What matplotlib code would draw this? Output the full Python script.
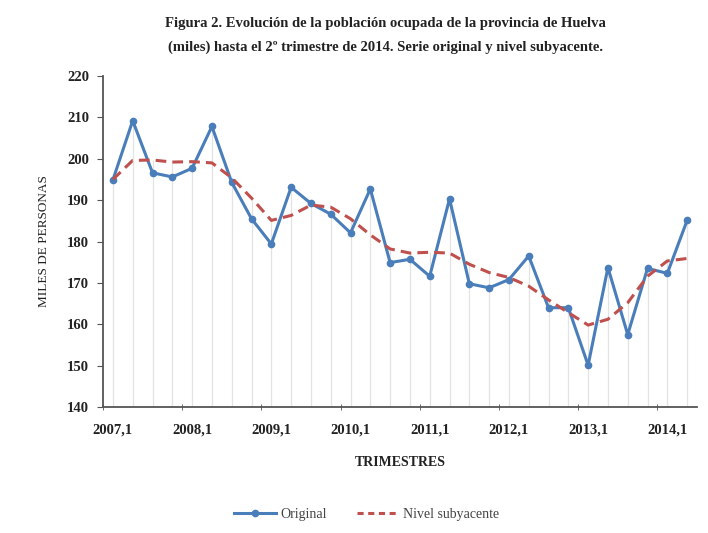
import matplotlib
matplotlib.use("Agg")
import matplotlib.pyplot as plt
from matplotlib.lines import Line2D
import numpy as np

years = list(range(2007, 2015))
tick_labels = [f"{y},1" for y in years]

original = [194.9, 209.2, 196.6, 195.6, 197.7, 207.8, 194.3, 185.5, 179.4, 193.1,
            189.2, 186.6, 182.1, 192.7, 174.9, 175.7, 171.6, 190.3, 169.8, 168.8,
            170.8, 176.5, 164.0, 164.0, 150.1, 173.7, 157.5, 173.5, 172.3, 185.1]
nivel = [195.0, 199.6, 199.7, 199.2, 199.3, 199.0, 195.4, 190.5, 185.1, 186.3,
         188.8, 188.3, 185.5, 181.6, 178.2, 177.2, 177.4, 177.2, 174.5, 172.5,
         171.3, 169.2, 165.9, 162.8, 159.8, 161.2, 165.2, 171.6, 175.3, 175.9]

plt.rcParams['font.family'] = ['Liberation Serif', 'DejaVu Serif']

fig = plt.figure(figsize=(7.08, 5.33), dpi=100)
ax = fig.add_axes([0.1455, 0.2364, 0.839, 0.621])

x = np.arange(len(original))
tops = np.maximum(original, nivel)
ax.vlines(x, 140, tops, color='#e3e3e3', lw=0.9, zorder=1)

blue = '#4a7ebb'
red = '#c0504d'
ax.plot(x, original, color=blue, lw=2.2, marker='o', ms=4.5, zorder=3)
ax.plot(x, nivel, color=red, lw=2.2, ls=(0, (3.5, 2)), zorder=4)

ax.set_xlim(-0.5, len(original) - 0.5)
ax.set_ylim(140, 220)
ax.set_yticks(np.arange(140, 221, 10))

ax.set_xticks(np.arange(0, len(original), 4))
ax.set_xticklabels(tick_labels, fontweight='bold', fontsize=10.5, color='#222222')
ax.tick_params(axis='x', length=0, pad=12)
ax.set_xticks(np.arange(-0.5, len(original), 4), minor=True)
ax.tick_params(axis='x', which='minor', length=4, direction='inout', color='#555555')
ax.tick_params(axis='y', length=4, direction='out', color='#555555', labelsize=10.5,
               labelcolor='#222222', pad=6)
for lbl in ax.get_yticklabels():
    lbl.set_fontweight('bold')

for s in ['top', 'right']:
    ax.spines[s].set_visible(False)
for s in ['left', 'bottom']:
    ax.spines[s].set_color('#555555')
    ax.spines[s].set_linewidth(1.3)

ax.set_ylabel('MILES DE PERSONAS', fontsize=9.5, color='#222222', labelpad=12)
ax.set_xlabel('TRIMESTRES', fontsize=10, fontweight='bold', color='#222222', labelpad=14)

fig.text(0.545, 0.955, 'Figura 2. Evolución de la población ocupada de la provincia de Huelva',
         ha='center', va='center', fontsize=10.5, fontweight='bold', color='#222222')
fig.text(0.545, 0.912, '(miles) hasta el 2º trimestre de 2014. Serie original y nivel subyacente.',
         ha='center', va='center', fontsize=10.5, fontweight='bold', color='#222222')

handles = [Line2D([], [], color=blue, lw=2.2, marker='o', ms=4.5),
           Line2D([], [], color=red, lw=2.2, ls=(0, (2, 1.5)))]
fig.legend(handles, ['Original', 'Nivel subyacente'], loc='center',
           bbox_to_anchor=(0.518, 0.035), ncol=2, frameon=False, fontsize=10,
           labelcolor='#444444', handlelength=3, handletextpad=0.3, columnspacing=2.2)

fig.savefig('out.png', dpi=100)
